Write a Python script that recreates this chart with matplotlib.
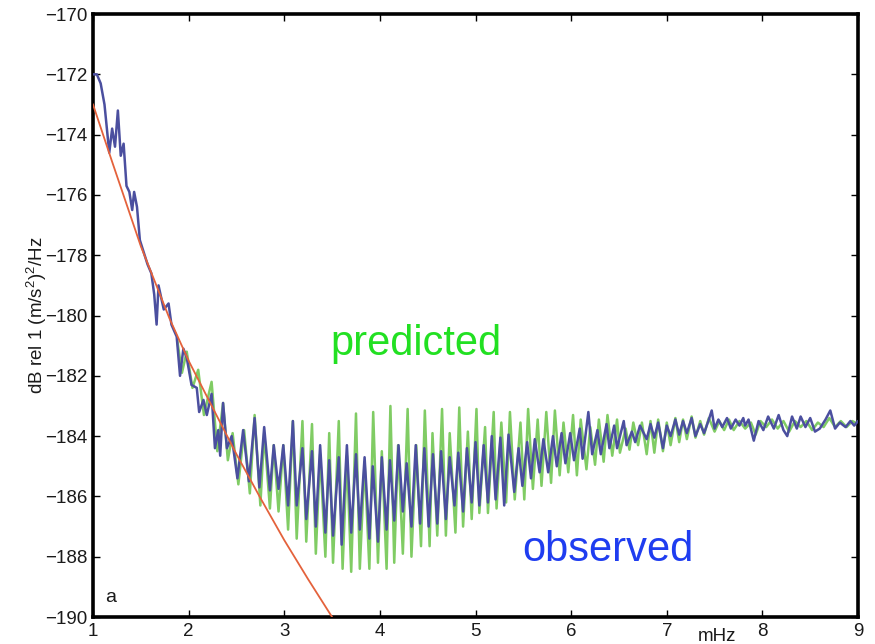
import matplotlib
matplotlib.use("Agg")
import matplotlib.pyplot as plt

# frequency (mHz) and level (dB), turning points of each trace
obs_f = [1.00, 1.04, 1.08, 1.12, 1.17, 1.20, 1.23, 1.26, 1.29, 1.32, 1.35, 1.38, 1.41, 1.43,
         1.46, 1.49, 1.53, 1.57, 1.61, 1.64, 1.665, 1.685, 1.74, 1.79, 1.82, 1.875, 1.91, 1.945,
         1.98, 2.03, 2.085, 2.11, 2.155, 2.19, 2.24, 2.275, 2.31, 2.33,
         2.36, 2.40, 2.45, 2.51, 2.57, 2.63, 2.69, 2.74, 2.79, 2.85, 2.89, 2.94, 2.99, 3.04,
         3.09, 3.13, 3.19, 3.23, 3.29, 3.33, 3.375, 3.43, 3.47, 3.51, 3.57, 3.60, 3.655, 3.70,
         3.75, 3.79, 3.84, 3.89, 3.925, 3.98, 4.02, 4.07, 4.105, 4.15, 4.195, 4.24, 4.28, 4.33,
         4.375, 4.42, 4.465, 4.51, 4.555, 4.60, 4.64, 4.69, 4.73, 4.78, 4.82, 4.87, 4.91, 4.96,
         5.00, 5.04, 5.085, 5.13, 5.17, 5.21, 5.26, 5.30, 5.345, 5.405, 5.45, 5.49, 5.54, 5.58,
         5.62, 5.67, 5.71, 5.76, 5.81, 5.85, 5.90, 5.94, 5.99, 6.03, 6.09, 6.12, 6.18, 6.22,
         6.275, 6.31, 6.37, 6.40, 6.45, 6.48, 6.55, 6.58, 6.635, 6.67, 6.72, 6.79, 6.83, 6.87,
         6.91, 6.96, 7.00, 7.04, 7.09, 7.13, 7.17, 7.21, 7.26, 7.30, 7.35, 7.39, 7.44, 7.47,
         7.50, 7.54, 7.58, 7.63, 7.67, 7.72, 7.76, 7.80, 7.82, 7.855, 7.91, 7.96, 8.01, 8.06,
         8.12, 8.17, 8.22, 8.26, 8.31, 8.36, 8.40, 8.45, 8.50, 8.55, 8.60, 8.66, 8.71, 8.76,
         8.81, 8.87, 8.92, 8.96, 9.00]
obs_db = [-172.0, -172.0, -172.3, -173.0, -174.6, -173.8, -174.4, -173.2, -174.7, -174.3, -175.7, -175.9, -176.5, -175.9,
          -176.4, -177.5, -177.9, -178.3, -178.6, -179.3, -180.3, -179.0, -179.8, -179.6, -180.3, -180.7, -182.0, -181.1,
          -181.4, -182.3, -182.4, -183.2, -182.8, -183.3, -182.6, -184.4, -183.8, -184.65,
          -182.9, -184.4, -184.0, -185.4, -183.8, -185.5, -183.4, -185.7, -183.7, -185.8, -184.3, -185.75, -184.3, -186.3,
          -183.5, -186.3, -184.4, -186.75, -184.5, -187.0, -184.3, -187.2, -184.8, -187.3, -184.7, -187.6, -184.3, -187.2,
          -184.6, -187.1, -184.7, -187.4, -185.0, -187.5, -184.7, -187.1, -184.8, -186.8, -184.3, -186.5, -184.9, -187.0,
          -184.3, -186.9, -184.4, -187.0, -184.6, -186.9, -184.5, -186.75, -184.7, -186.3, -184.55, -186.5, -184.4, -186.2,
          -184.2, -186.3, -184.3, -186.2, -184.0, -186.1, -184.05, -186.3, -183.95, -185.85, -184.4, -185.65, -184.2, -185.4,
          -184.1, -185.2, -184.1, -185.2, -184.0, -185.0, -183.9, -184.9, -183.9, -184.8, -183.75, -184.75, -183.2, -184.6,
          -183.8, -184.6, -183.6, -184.4, -183.65, -184.4, -183.5, -184.3, -183.85, -184.2, -183.65, -184.1, -183.6, -184.05,
          -183.55, -184.4, -183.65, -184.0, -183.45, -183.95, -183.5, -183.9, -183.4, -184.0, -183.6, -183.9, -183.45, -183.15,
          -183.75, -183.45, -183.7, -183.4, -183.75, -183.45, -183.65, -183.4, -183.65, -183.45, -184.15, -183.5, -183.8, -183.35,
          -183.75, -183.3, -183.8, -184.0, -183.35, -183.75, -183.35, -183.7, -183.4, -183.85, -183.75, -183.45, -183.15, -183.75,
          -183.55, -183.7, -183.5, -183.65, -183.5]

pred_f = [1.88, 1.93, 1.98, 2.04, 2.10, 2.16, 2.24, 2.30, 2.36, 2.41, 2.46, 2.52, 2.58, 2.64,
          2.69, 2.75, 2.79, 2.85, 2.89, 2.94, 2.99, 3.04, 3.09, 3.13, 3.19, 3.23, 3.29, 3.33,
          3.375, 3.43, 3.47, 3.51, 3.57, 3.61, 3.655, 3.70, 3.75, 3.79, 3.84, 3.89, 3.93, 3.98,
          4.02, 4.07, 4.11, 4.15, 4.19, 4.24, 4.29, 4.33, 4.38, 4.43, 4.47, 4.52, 4.55, 4.60,
          4.65, 4.69, 4.73, 4.79, 4.83, 4.87, 4.92, 4.96, 5.01, 5.04, 5.10, 5.13, 5.19, 5.22,
          5.27, 5.32, 5.36, 5.41, 5.47, 5.51, 5.55, 5.60, 5.65, 5.69, 5.74, 5.79, 5.83, 5.88,
          5.92, 5.97, 6.02, 6.06, 6.10, 6.16, 6.20, 6.25, 6.29, 6.34, 6.38, 6.43, 6.48, 6.51,
          6.57, 6.61, 6.65, 6.70, 6.74, 6.79, 6.83, 6.87, 6.91, 6.96, 7.00, 7.04, 7.09, 7.13,
          7.17, 7.21, 7.26, 7.30, 7.35, 7.39, 7.44, 7.50, 7.55, 7.60, 7.65, 7.70, 7.76, 7.82,
          7.88, 7.93, 7.98, 8.04, 8.10, 8.16, 8.22, 8.28, 8.34, 8.40, 8.46, 8.52, 8.58, 8.64,
          8.70, 8.76, 8.82, 8.88, 8.94, 9.00]
pred_db = [-180.8, -181.9, -181.2, -182.4, -181.8, -183.3, -182.2, -184.5, -182.9, -184.8, -183.9, -185.6, -183.8, -185.9,
           -183.3, -186.3, -183.9, -186.4, -184.3, -186.5, -184.3, -187.1, -183.5, -187.4, -183.5, -187.5, -183.6, -187.9,
           -184.6, -188.0, -183.9, -188.2, -183.5, -188.4, -184.65, -188.5, -183.25, -188.4, -184.85, -188.4, -183.2, -188.2,
           -184.5, -188.4, -183.0, -188.2, -184.3, -187.9, -183.1, -188.0, -184.3, -187.65, -183.15, -187.65, -183.9, -187.3,
           -183.1, -187.3, -183.9, -187.2, -183.05, -187.0, -183.85, -186.75, -183.1, -186.55, -183.7, -186.55, -183.2, -186.4,
           -183.55, -186.2, -183.2, -186.1, -183.55, -186.1, -183.1, -185.75, -183.45, -185.65, -183.2, -185.55, -183.15, -185.3,
           -183.55, -185.2, -183.3, -185.3, -183.45, -185.1, -183.7, -184.95, -183.45, -184.85, -183.3, -184.65, -183.45, -184.55,
           -183.75, -184.45, -183.55, -184.3, -183.55, -184.6, -183.5, -184.55, -183.45, -184.5, -183.55, -184.3, -183.4, -184.2,
           -183.45, -184.1, -183.35, -184.05, -183.5, -183.95, -183.4, -183.85, -183.5, -183.8, -183.45, -183.8, -183.5, -183.75,
           -183.55, -183.95, -183.5, -183.7, -183.45, -183.75, -183.5, -183.85, -183.5, -183.7, -183.5, -183.8, -183.55, -183.7,
           -183.4, -183.7, -183.5, -183.7, -183.5, -183.6]

# smooth model curve (red)
model_f = [1.0, 1.2, 1.5, 1.8, 2.0, 2.5, 2.75, 3.0, 3.25, 3.5, 3.6]
model_db = [-173.0, -174.9, -177.7, -180.1, -181.5, -184.6, -186.05, -187.45, -188.75, -190.0, -190.5]

x_ticks = [1, 2, 3, 4, 5, 6, 7, 8, 9]
y_ticks = [-190, -188, -186, -184, -182, -180, -178, -176, -174, -172, -170]

plt.rcParams['font.family'] = ['Liberation Sans', 'DejaVu Sans']
plt.rcParams['mathtext.default'] = 'regular'

fig = plt.figure(figsize=(8.75, 6.44), dpi=100)
ax = fig.add_axes([0.1063, 0.0419, 0.8743, 0.9363])

ax.plot(pred_f, pred_db, color='#80cc64', lw=1.8, zorder=2,
        solid_joinstyle='round', solid_capstyle='round')
ax.plot(obs_f, obs_db, color='#4b4f9f', lw=1.8, zorder=3,
        solid_joinstyle='round', solid_capstyle='round')
ax.plot(model_f, model_db, color='#e4623c', lw=1.3, zorder=4)

ax.set_xlim(1, 9)
ax.set_ylim(-190, -170)
ax.set_xticks(x_ticks)
ax.set_yticks(y_ticks)
ax.tick_params(direction='in', top=True, right=True, length=5, width=1,
               labelsize=13.5, labelcolor='#1a1a1a', pad=4)
for s in ax.spines.values():
    s.set_linewidth(2.6)

ax.set_ylabel('dB rel 1 (m/s$^2$)$^2$/Hz', fontsize=13.5, color='#1a1a1a')
ax.yaxis.set_label_coords(-0.058, 0.5)

ax.annotate('mHz', xy=(7.53, 0), xycoords=('data', 'axes fraction'),
            xytext=(0, -8), textcoords='offset points', ha='center', va='top',
            fontsize=13.5, color='#1a1a1a')
ax.text(0.016, 0.025, 'a', transform=ax.transAxes, fontsize=14, color='#1a1a1a')

ax.text(4.38, -180.95, 'predicted', color='#22e022', fontsize=30, ha='center', va='center')
ax.text(6.38, -187.78, 'observed', color='#1f3df0', fontsize=30, ha='center', va='center')

fig.savefig('out.png', dpi=100)
